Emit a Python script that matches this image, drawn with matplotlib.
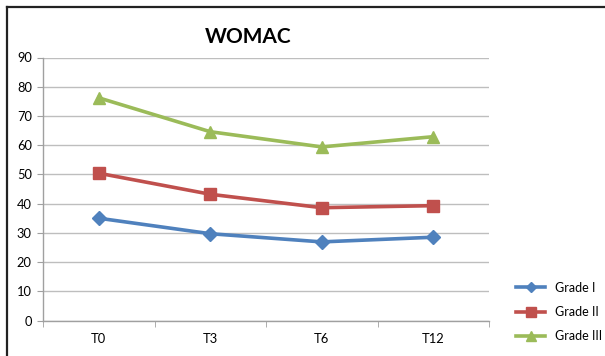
import matplotlib.pyplot as plt
from matplotlib.lines import Line2D
import numpy as np

plt.rcParams['font.family'] = ['Lato', 'DejaVu Sans']

# WOMAC scores per grade at each time point
times = ['T0', 'T3', 'T6', 'T12']
grade1 = [35.0, 29.7, 26.9, 28.5]
grade2 = [50.4, 43.2, 38.6, 39.3]
grade3 = [76.2, 64.6, 59.4, 62.9]
labels = ['Grade I', 'Grade II', 'Grade III']

colors = ['#4F81BD', '#C0504D', '#9BBB59']
markers = ['D', 's', '^']
msizes = [7, 8.5, 8.5]

fig = plt.figure(figsize=(6.05, 3.56), dpi=100)
W, H = 605, 356
ax = fig.add_axes([43 / W, 1 - 320.5 / H, (489 - 43) / W, (320.5 - 57.5) / H])

x = np.arange(len(times))
for vals, c, m, ms, lab in zip([grade1, grade2, grade3], colors, markers, msizes, labels):
    ax.plot(x, vals, color=c, lw=2.6, marker=m, ms=ms, mec=c, mfc=c, label=lab,
            solid_joinstyle='round', clip_on=False, zorder=3)

ax.set_xlim(-0.5, 3.5)
ax.set_ylim(0, 90)
ax.set_yticks(range(0, 91, 10))
ax.set_xticks(x)
ax.set_xticklabels(times)
ax.set_xticks(np.arange(-0.5, 4, 1), minor=True)
ax.tick_params(axis='x', which='major', length=0, pad=9, labelsize=9.3, colors='black')
ax.tick_params(axis='x', which='minor', length=4, color='#A0A0A0', direction='out')
ax.tick_params(axis='y', length=4, color='#A0A0A0', labelsize=9.3, pad=4)
ax.yaxis.grid(True, color='#BEBEBE', lw=1)
ax.set_axisbelow(True)
for s in ['top', 'right']:
    ax.spines[s].set_visible(False)
for s in ['left', 'bottom']:
    ax.spines[s].set_color('#A0A0A0')
    ax.spines[s].set_linewidth(1)

fig.text(248 / W, 1 - 37 / H, 'WOMAC', ha='center', va='center',
         fontsize=15, fontweight='bold')

leg = fig.legend(loc='center left', bbox_to_anchor=(510 / W, 1 - 312 / H),
                 frameon=False, fontsize=9, handlelength=2.3, markerscale=0.8,
                 labelspacing=1.0, handletextpad=0.8, borderpad=0)

# outer chart frame (top and left edges visible)
fig.add_artist(Line2D([7 / W, 1], [1 - 6.5 / H, 1 - 6.5 / H], color='#222222', lw=1.6,
                      transform=fig.transFigure))
fig.add_artist(Line2D([7 / W, 7 / W], [0, 1 - 6.5 / H], color='#222222', lw=1.6,
                      transform=fig.transFigure))

fig.savefig('out.png', dpi=100, facecolor='white')
